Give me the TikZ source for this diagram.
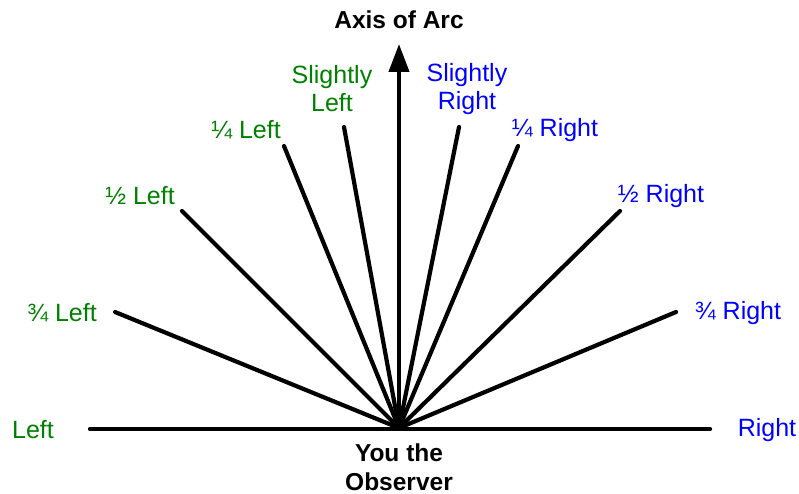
\documentclass[tikz,border=0pt]{standalone}
\usepackage{fontspec}
\setmainfont{Liberation Sans}
\usetikzlibrary{arrows.meta}
\definecolor{leftgreen}{HTML}{008000}
\definecolor{rightblue}{HTML}{0000FF}

\begin{document}
\begin{tikzpicture}[
  x=1pt,y=-1pt,
  font=\fontsize{25}{28}\selectfont,
  ray/.style={line width=4.2pt,line cap=round,draw=black},
  lefttxt/.style={text=leftgreen,align=center,inner sep=0pt},
  righttxt/.style={text=rightblue,align=center,inner sep=0pt},
  title/.style={font=\fontsize{24.5}{29}\selectfont\bfseries,align=center,inner sep=0pt}
]
\useasboundingbox (0,0) rectangle (799,494);
\coordinate (eye) at (399,428);
% ray ends
\coordinate (endL)   at (90,429);
\coordinate (endR)   at (710,429);
\coordinate (endLtq) at (115,312);
\coordinate (endLh)  at (182,211);
\coordinate (endLq)  at (284,146);
\coordinate (endLs)  at (344,127);
\coordinate (endRs)  at (459,127);
\coordinate (endRq)  at (518,146);
\coordinate (endRh)  at (620,211);
\coordinate (endRtq) at (676,312);
\coordinate (top)    at (399,44);

% labels
\node[title] (axis) at (399,20) {Axis of Arc};
\node[title] (observer) at (399,467) {You the\\Observer};
\node[lefttxt] (lblL) at (33,430) {Left};
\node[lefttxt] (lblLtq) at (62,313) {¾ Left};
\node[lefttxt] (lblLh) at (140,196) {½ Left};
\node[lefttxt] (lblLq) at (246,130) {¼ Left};
\node[lefttxt] (lblLs) at (332,89) {Slightly\\Left};
\node[righttxt] (lblRs) at (467,89) {Slightly\\Right};
\node[righttxt] (lblRq) at (555,130) {¼ Right};
\node[righttxt] (lblRh) at (661,196) {½ Right};
\node[righttxt] (lblRtq) at (738,313) {¾ Right};
\node[righttxt] (lblR) at (767,430) {Right};

\draw[ray] (endL) -- (endR);
\foreach \e in {endLtq,endLh,endLq,endLs,endRs,endRq,endRh,endRtq}
  \draw[ray] (\e) -- (eye);
\draw[ray,line cap=butt,-{Triangle[length=28pt,width=20pt]}] (eye) -- (top);
\end{tikzpicture}
\end{document}
